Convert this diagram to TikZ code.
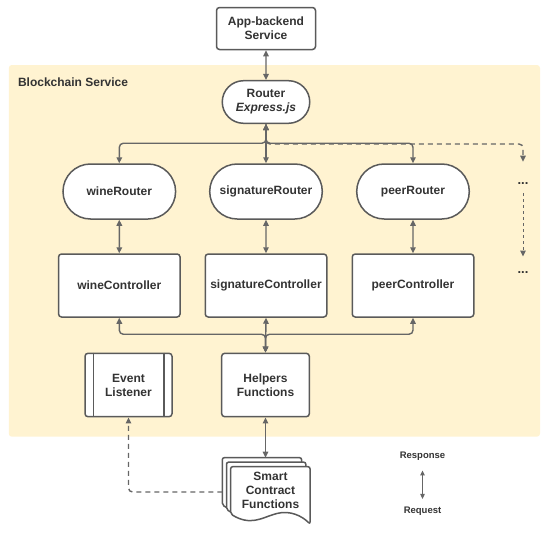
\documentclass[tikz,border=0pt]{standalone}
\usepackage{fontspec}
\setmainfont{Liberation Sans}
\usetikzlibrary{arrows.meta,shapes.misc,calc}
\definecolor{bgy}{HTML}{FFF3D1}
\definecolor{ln}{HTML}{666666}
\definecolor{bd}{HTML}{5A5A5A}
\definecolor{tx}{HTML}{333333}
\begin{document}
\begin{tikzpicture}[x=1pt,y=-1pt,
  lbl/.style={font=\fontsize{12}{14}\selectfont\bfseries, text=tx},
  box/.style={lbl, draw=bd, line width=1.5pt, fill=white, rounded corners=3pt, inner sep=0pt, align=center},
  pill/.style={lbl, draw=bd, line width=1.5pt, fill=white, rounded rectangle, inner sep=0pt, align=center},
  conn/.style={draw=ln, line width=1.4pt, rounded corners=4pt},
  both/.style={conn, {Triangle[length=6pt,width=5.5pt]}-{Triangle[length=6pt,width=5.5pt]}},
  dsh/.style={conn, dash pattern=on 5pt off 4pt, -{Triangle[length=6pt,width=5.5pt]}},
  doc/.style={draw=bd, line width=1.5pt, fill=white, rounded corners=2pt},
  leg/.style={font=\fontsize{9.5}{11}\selectfont\bfseries, text=tx}
]
\useasboundingbox (0,0) rectangle (550,533);
% container
\fill[bgy, rounded corners=3pt] (8.8,65) rectangle (540,436.7);
\node[lbl, anchor=west] (title) at (14.5,82) {Blockchain Service};

% nodes
\node[box, minimum width=99pt, minimum height=42pt] (app) at (266,28.5) {App-backend\\Service};
\node[pill, minimum width=87.5pt, minimum height=42.6pt] (router) at (266,102) {Router\\\textit{Express.js}};

\node[pill, minimum width=112.6pt, minimum height=55pt] (wineR) at (119.3,191.5) {wineRouter};
\node[pill, minimum width=112.6pt, minimum height=55pt] (sigR) at (266,191.5) {signatureRouter};
\node[pill, minimum width=112.6pt, minimum height=55pt] (peerR) at (413,191.5) {peerRouter};

\node[box, minimum width=121.5pt, minimum height=63pt] (wineC) at (119.3,285.5) {wineController};
\node[box, minimum width=121.5pt, minimum height=63pt] (sigC) at (266,285.5) {signatureController};
\node[box, minimum width=121.5pt, minimum height=63pt] (peerC) at (413,285.5) {peerController};

\node[lbl, font=\fontsize{13}{14}\selectfont\bfseries, anchor=base] (dotsA) at (523,184) {...};
\node[lbl, font=\fontsize{13}{14}\selectfont\bfseries, anchor=base] (dotsB) at (523,273.5) {...};

\node[box, minimum width=87pt, minimum height=63.4pt] (event) at (128.5,385) {Event\\Listener};
\draw[draw=bd, line width=1.5pt] ([xshift=9pt]event.north west) -- ([xshift=9pt]event.south west)
  ([xshift=-9pt]event.north east) -- ([xshift=-9pt]event.south east);
\node[box, minimum width=87.6pt, minimum height=63.4pt] (helpers) at (265.5,385) {Helpers\\Functions};

% smart contract (multi-document)
\begin{scope}[shift={(-8.4,-9)}]
\draw[doc] (230.7,466.7) -- (310,466.7) -- (310,524) .. controls (302,516) and (290,510) .. (275,514) .. controls (262,518) and (250,526) .. (230.7,514) -- cycle;
\end{scope}
\begin{scope}[shift={(-4.2,-4.5)}]
\draw[doc] (230.7,466.7) -- (310,466.7) -- (310,524) .. controls (302,516) and (290,510) .. (275,514) .. controls (262,518) and (250,526) .. (230.7,514) -- cycle;
\end{scope}
\draw[doc] (230.7,466.7) -- (310,466.7) -- (310,524) .. controls (302,516) and (290,510) .. (275,514) .. controls (262,518) and (250,526) .. (230.7,514) -- cycle;
\node[lbl, align=center] (smart) at (270.5,490.5) {Smart\\Contract\\Functions};
\coordinate (smarttop) at (265.5,457.7);
\coordinate (smartleft) at (222.3,492);
\coordinate (more) at (523,161.7);

% legend
\node[leg] (resp) at (422.5,456.7) {Response};
\node[leg] (req) at (422.5,511.7) {Request};
\draw[draw=ln, line width=1pt, {Triangle[length=5pt,width=4.5pt]}-{Triangle[length=5pt,width=4.5pt]}] ([yshift=-6pt]resp.south) -- ([yshift=5pt]req.north);

% connectors
\draw[both] (app) -- (router);
\draw[both] (router.south) |- ($(wineR.north)+(0,-20)$) -- (wineR.north);
\draw[both] (router.south) |- ($(peerR.north)+(0,-20)$) -- (peerR.north);
\draw[both] (router.south) -- (sigR.north);
\draw[dsh] (router.south) |- ($(more)+(0,-17.7)$) -- (more);

\draw[both] (wineR) -- (wineC);
\draw[both] (sigR) -- (sigC);
\draw[both] (peerR) -- (peerC);

\draw[conn, line width=1pt, dash pattern=on 3pt off 3pt, -{Triangle[length=6pt,width=5.5pt]}] ([yshift=-9pt]dotsA.base) -- ([yshift=17pt]dotsB.base);

\draw[both] (wineC.south) |- ($(helpers.north)+(0,-18.3)$) -- (helpers.north);
\draw[both] (peerC.south) |- ($(helpers.north)+(0,-18.3)$) -- (helpers.north);
\draw[both] (sigC.south) -- (helpers.north);

\draw[both] (helpers.south) -- (smarttop);
\draw[dsh] (smartleft) -| (event.south);
\end{tikzpicture}
\end{document}
